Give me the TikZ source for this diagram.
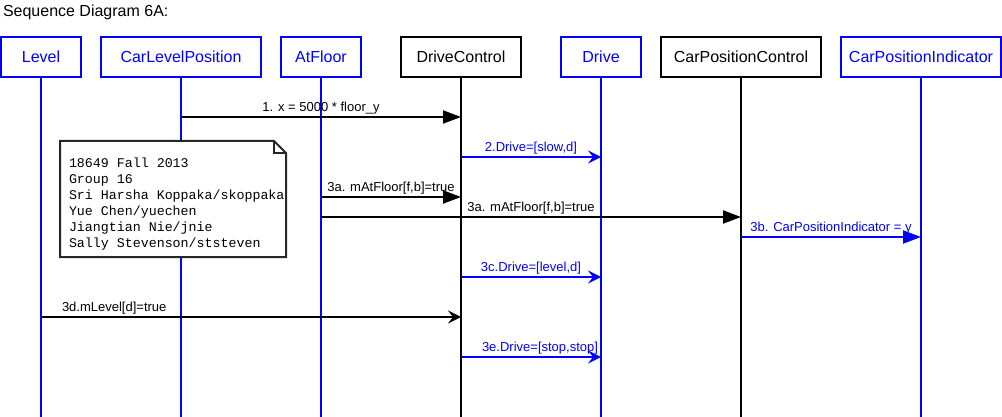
\documentclass[tikz,border=0pt]{standalone}
\usepackage{fontspec}
\setmainfont{Liberation Sans}
\setmonofont{Liberation Mono}
\usetikzlibrary{arrows.meta}
\newcommand{\actor}[5]{\node[head, draw=#5, text=#5, minimum width=#3] (#1) at (#2,57) {#4};
\coordinate (#1 end) at (#2,417);
\draw[life, draw=#5] (#1) -- (#1 end);}
\newcommand{\msg}[5]{\draw[#5] (#1 |- 0,#3) -- node[lbl] {#4} (#2 |- 0,#3);}

\begin{document}
\begin{tikzpicture}[x=1pt, y=-1pt, line width=2pt,
  head/.style={rectangle, minimum height=40pt, inner sep=0pt, font=\fontsize{16}{18}\selectfont},
  life/.style={line width=2pt},
  lbl/.style={above, inner sep=2pt, font=\fontsize{13}{15}\selectfont},
  call/.style={-{Triangle[length=18pt,width=13pt]}},
  ret/.style={-{Stealth[length=13pt,width=13pt,inset=5pt]}}]
\useasboundingbox (0,0) rectangle (1002,417);

\node[anchor=west, inner sep=2pt, font=\fontsize{16}{18}\selectfont] (title) at (0,12) {Sequence Diagram 6A:};

\actor{lvl}{41}{80pt}{Level}{blue}
\actor{clp}{181}{160pt}{CarLevelPosition}{blue}
\actor{atf}{321}{80pt}{AtFloor}{blue}
\actor{dc}{461}{120pt}{DriveControl}{black}
\actor{drv}{601}{80pt}{Drive}{blue}
\actor{cpc}{741}{160pt}{CarPositionControl}{black}
\actor{cpi}{921}{160pt}{CarPositionIndicator}{blue}

% note
\draw[fill=white, draw=black!85] (60,141) -- (274,141) -- (286,153) -- (286,257) -- (60,257) -- cycle;
\draw[draw=black!85, line width=1.5pt] (274,141) -- (274,153) -- (286,153);
\node[anchor=north west, align=left, inner sep=0pt, font=\fontsize{13.3}{16}\ttfamily] (note) at (68,157)
  {18649 Fall 2013\\Group 16\\Sri Harsha Koppaka/skoppaka\\Yue Chen/yuechen\\Jiangtian Nie/jnie\\Sally Stevenson/ststeven};

% messages
\msg{clp}{dc}{117}{1. x = 5000 * floor\_y}{call}
\msg{dc}{drv}{157}{2.Drive=[slow,d]}{ret, blue}
\msg{atf}{dc}{197}{3a. mAtFloor[f,b]=true}{call}
\msg{atf}{cpc}{217}{3a. mAtFloor[f,b]=true}{call}
\msg{cpc}{cpi}{237}{3b. CarPositionIndicator = y}{call, blue}
\msg{dc}{drv}{277}{3c.Drive=[level,d]}{ret, blue}
\draw[ret] (lvl |- 0,317) -- node[lbl, pos=0, anchor=south west, xshift=18pt] (l3d) {3d.mLevel[d]=true} (dc |- 0,317);
\draw[ret, blue] (dc |- 0,357) -- node[lbl, xshift=9pt] (l3e) {3e.Drive=[stop,stop]} (drv |- 0,357);

\end{tikzpicture}
\end{document}
